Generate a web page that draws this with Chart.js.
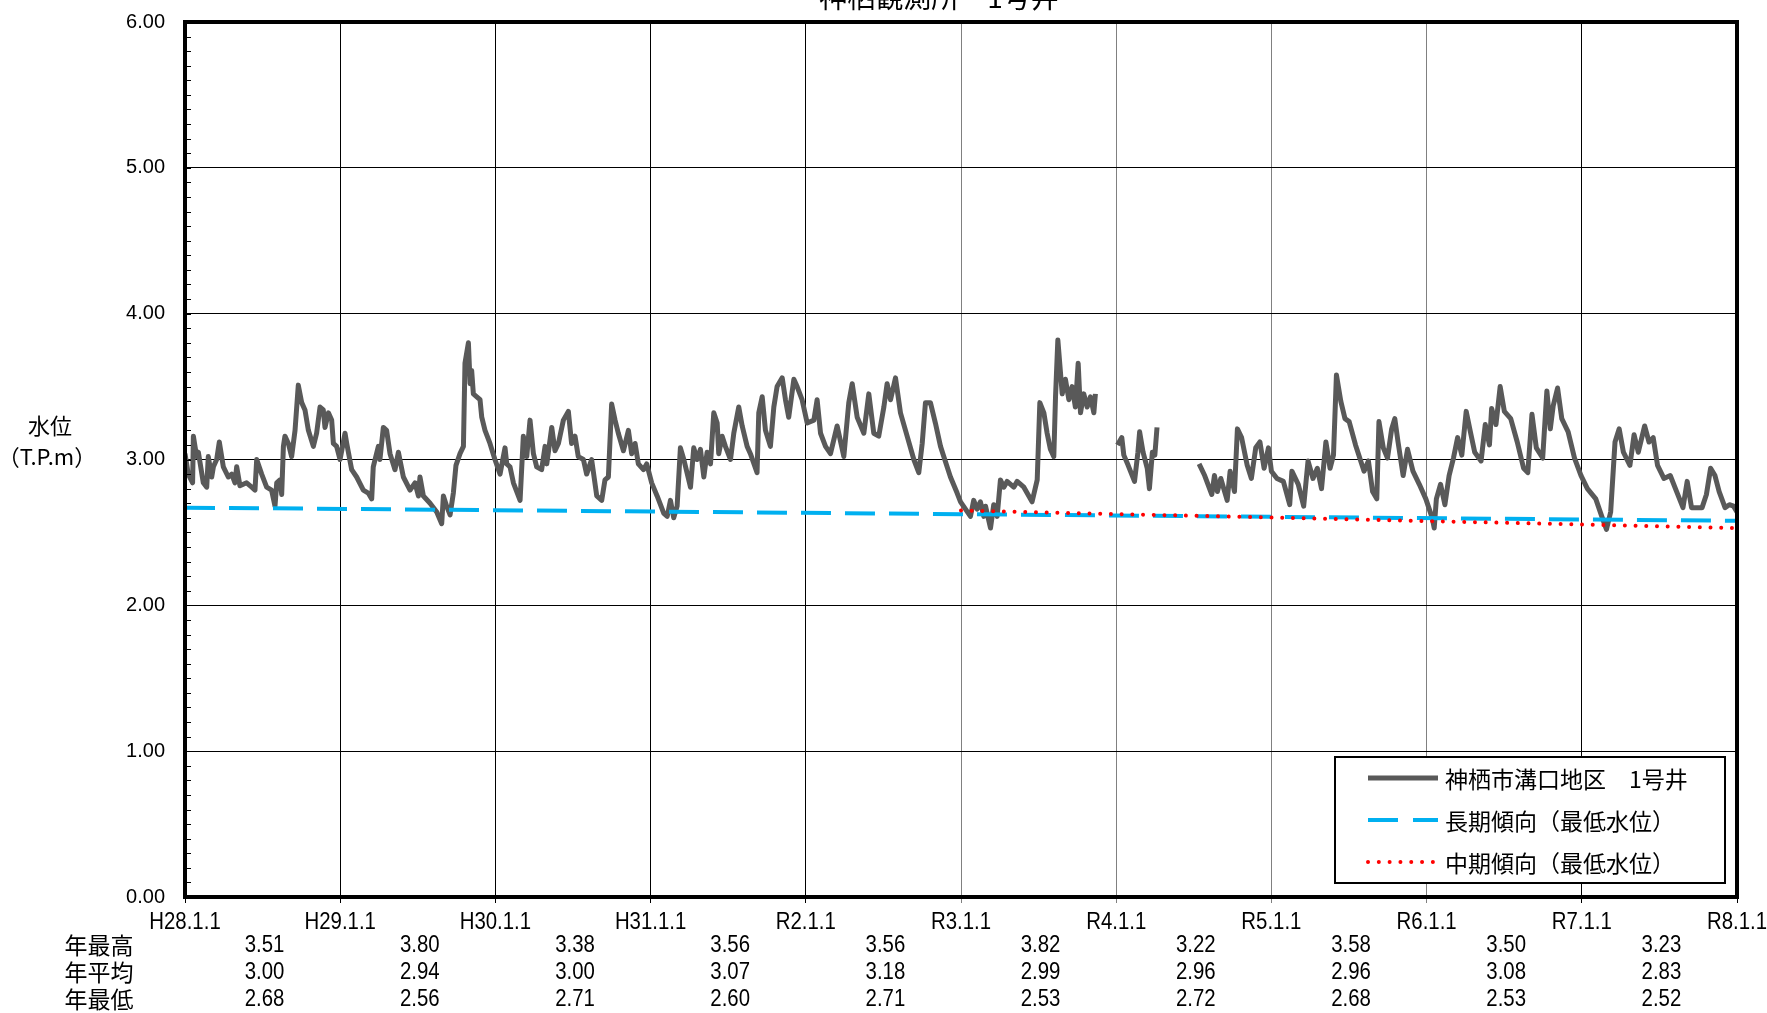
<!DOCTYPE html>
<html>
<head>
<meta charset="utf-8">
<script src="https://cdn.jsdelivr.net/npm/chart.js@4.4.1/dist/chart.umd.min.js"></script>
<style>
  html, body { margin: 0; padding: 0; background: #fff; }
  #wrap { width: 1767px; height: 1013px; }
</style>
</head>
<body>
<div id="wrap"><canvas id="chart" width="1767" height="1013"></canvas></div>
<script>
// Year labels on the x axis (H28.1.1 ... R8.1.1)
const yearLabels = ['H28.1.1', 'H29.1.1', 'H30.1.1', 'H31.1.1', 'R2.1.1', 'R3.1.1', 'R4.1.1', 'R5.1.1', 'R6.1.1', 'R7.1.1', 'R8.1.1'];
const yTicks = [0, 1, 2, 3, 4, 5, 6];

// Yearly summary table
const rowNames = ['年最高', '年平均', '年最低'];
const yearMax = [3.51, 3.80, 3.38, 3.56, 3.56, 3.82, 3.22, 3.58, 3.50, 3.23];
const yearAvg = [3.00, 2.94, 3.00, 3.07, 3.18, 2.99, 2.96, 2.96, 3.08, 2.83];
const yearMin = [2.68, 2.56, 2.71, 2.60, 2.71, 2.53, 2.72, 2.68, 2.53, 2.52];

// Observed water level (years since H28.1.1, T.P.m) - null = missing
const obsT = [
  0.000, 0.021, 0.049, 0.054, 0.075, 0.086, 0.118, 0.140, 0.150, 0.172, 0.183, 0.204, 0.221, 0.247, 0.279, 0.301,
  0.322, 0.333, 0.354, 0.397, 0.430, 0.451, 0.462, 0.494, 0.526, 0.558, 0.580, 0.591, 0.612, 0.623, 0.634, 0.644,
  0.666, 0.687, 0.709, 0.730, 0.752, 0.773, 0.795, 0.827, 0.848, 0.870, 0.891, 0.902, 0.924, 0.945, 0.956, 0.977,
  0.999, 1.031, 1.042, 1.074, 1.106, 1.149, 1.181, 1.203, 1.213, 1.246, 1.256, 1.278, 1.299, 1.321, 1.353, 1.375,
  1.407, 1.450, 1.482, 1.504, 1.514, 1.536, 1.579, 1.622, 1.654, 1.665, 1.686, 1.708, 1.729, 1.746, 1.772, 1.794,
  1.804, 1.826, 1.837, 1.847, 1.858, 1.880, 1.901, 1.912, 1.933, 1.965, 1.997, 2.030, 2.062, 2.073, 2.094, 2.116,
  2.159, 2.180, 2.202, 2.223, 2.245, 2.266, 2.298, 2.320, 2.331, 2.363, 2.384, 2.406, 2.438, 2.470, 2.491, 2.513,
  2.534, 2.567, 2.588, 2.620, 2.653, 2.685, 2.706, 2.728, 2.749, 2.771, 2.792, 2.825, 2.857, 2.878, 2.900, 2.921,
  2.954, 2.975, 3.007, 3.042, 3.085, 3.107, 3.128, 3.149, 3.171, 3.192, 3.214, 3.257, 3.278, 3.300, 3.321, 3.343,
  3.364, 3.386, 3.407, 3.429, 3.439, 3.461, 3.482, 3.515, 3.536, 3.568, 3.590, 3.622, 3.643, 3.686, 3.697, 3.719,
  3.740, 3.772, 3.794, 3.815, 3.848, 3.869, 3.890, 3.923, 3.944, 3.976, 4.009, 4.052, 4.073, 4.095, 4.127, 4.159,
  4.202, 4.245, 4.277, 4.299, 4.331, 4.374, 4.406, 4.438, 4.470, 4.503, 4.524, 4.546, 4.578, 4.610, 4.653, 4.696,
  4.728, 4.750, 4.771, 4.803, 4.835, 4.868, 4.889, 4.932, 4.975, 4.997, 5.029, 5.061, 5.082, 5.104, 5.125, 5.147,
  5.158, 5.190, 5.211, 5.233, 5.254, 5.276, 5.297, 5.340, 5.362, 5.405, 5.426, 5.458, 5.491, 5.508, 5.534, 5.555,
  5.576, 5.598, 5.609, 5.624, 5.652, 5.673, 5.695, 5.716, 5.737, 5.755, 5.770, 5.791, 5.813, 5.834, 5.856, 5.866,
  5.930, 6.008, 6.036, 6.049, 6.077, 6.118, 6.140, 6.151, 6.173, 6.200, 6.214, 6.233, 6.249, 6.263, 6.400, 6.534,
  6.570, 6.616, 6.633, 6.652, 6.674, 6.715, 6.734, 6.762, 6.781, 6.808, 6.844, 6.871, 6.899, 6.926, 6.953, 6.981,
  7.000, 7.036, 7.077, 7.118, 7.132, 7.173, 7.208, 7.236, 7.268, 7.296, 7.323, 7.351, 7.378, 7.400, 7.419, 7.447,
  7.474, 7.501, 7.542, 7.597, 7.625, 7.652, 7.679, 7.693, 7.721, 7.748, 7.775, 7.795, 7.816, 7.849, 7.877, 7.912,
  7.953, 7.995, 8.036, 8.049, 8.063, 8.090, 8.118, 8.145, 8.173, 8.200, 8.227, 8.255, 8.282, 8.310, 8.351, 8.378,
  8.405, 8.419, 8.447, 8.474, 8.501, 8.542, 8.584, 8.625, 8.652, 8.679, 8.707, 8.748, 8.775, 8.797, 8.816, 8.844,
  8.871, 8.912, 8.953, 8.995, 9.036, 9.090, 9.132, 9.159, 9.186, 9.214, 9.241, 9.268, 9.310, 9.337, 9.364, 9.405,
  9.433, 9.460, 9.488, 9.529, 9.570, 9.611, 9.652, 9.679, 9.707, 9.734, 9.775, 9.803, 9.830, 9.858, 9.885, 9.923,
  9.951, 9.978, 10.000
];
const obsLevel = [
  3.04, 2.90, 2.84, 3.16, 3.02, 3.05, 2.84, 2.81, 3.02, 2.88, 2.95, 3.00, 3.12, 2.95, 2.88, 2.90,
  2.84, 2.95, 2.82, 2.84, 2.81, 2.79, 3.00, 2.90, 2.81, 2.79, 2.68, 2.84, 2.86, 2.76, 3.09, 3.16,
  3.11, 3.02, 3.20, 3.51, 3.39, 3.34, 3.20, 3.09, 3.18, 3.36, 3.34, 3.22, 3.32, 3.27, 3.11, 3.09,
  3.00, 3.18, 3.11, 2.93, 2.88, 2.79, 2.77, 2.73, 2.95, 3.09, 3.00, 3.22, 3.20, 3.04, 2.93, 3.05,
  2.88, 2.79, 2.84, 2.75, 2.88, 2.75, 2.70, 2.64, 2.56, 2.75, 2.68, 2.62, 2.77, 2.96, 3.04, 3.09,
  3.66, 3.80, 3.52, 3.61, 3.45, 3.43, 3.41, 3.29, 3.20, 3.11, 3.00, 2.90, 3.08, 2.97, 2.95, 2.84,
  2.72, 3.16, 3.02, 3.27, 3.04, 2.95, 2.93, 3.09, 2.97, 3.22, 3.06, 3.11, 3.27, 3.33, 3.11, 3.16,
  3.02, 3.00, 2.90, 3.00, 2.75, 2.72, 2.86, 2.88, 3.38, 3.27, 3.18, 3.06, 3.20, 3.04, 3.11, 2.97,
  2.93, 2.97, 2.84, 2.75, 2.63, 2.61, 2.72, 2.60, 2.68, 3.08, 3.00, 2.81, 3.08, 3.00, 3.07, 2.88,
  3.05, 2.97, 3.32, 3.25, 3.04, 3.16, 3.09, 3.00, 3.18, 3.36, 3.23, 3.09, 3.04, 2.91, 3.32, 3.43,
  3.20, 3.09, 3.36, 3.50, 3.56, 3.41, 3.29, 3.55, 3.50, 3.41, 3.25, 3.27, 3.41, 3.18, 3.09, 3.04,
  3.23, 3.02, 3.39, 3.52, 3.29, 3.18, 3.45, 3.18, 3.16, 3.36, 3.52, 3.41, 3.56, 3.32, 3.16, 3.00,
  2.91, 3.11, 3.39, 3.39, 3.25, 3.09, 3.02, 2.88, 2.77, 2.71, 2.66, 2.61, 2.72, 2.66, 2.71, 2.61,
  2.68, 2.53, 2.69, 2.61, 2.86, 2.81, 2.85, 2.81, 2.85, 2.81, 2.77, 2.71, 2.86, 3.39, 3.32, 3.18,
  3.07, 3.02, 3.43, 3.82, 3.45, 3.55, 3.41, 3.50, 3.36, 3.66, 3.32, 3.45, 3.36, 3.43, 3.32, 3.45,
  null, 3.10, 3.15, 3.03, 2.96, 2.85, 3.05, 3.19, 3.05, 2.94, 2.80, 3.05, 3.03, 3.22, null, 2.97,
  2.89, 2.76, 2.89, 2.78, 2.87, 2.72, 2.92, 2.78, 3.21, 3.15, 2.96, 2.87, 3.08, 3.12, 2.94, 3.08,
  2.92, 2.87, 2.85, 2.69, 2.92, 2.83, 2.68, 2.99, 2.87, 2.94, 2.80, 3.12, 2.94, 3.03, 3.58, 3.40,
  3.28, 3.26, 3.10, 2.92, 2.99, 2.78, 2.73, 3.26, 3.08, 3.01, 3.21, 3.28, 3.12, 2.89, 3.07, 2.92,
  2.83, 2.73, 2.60, 2.53, 2.73, 2.83, 2.69, 2.89, 3.01, 3.15, 3.03, 3.33, 3.19, 3.05, 2.99, 3.24,
  3.10, 3.35, 3.24, 3.50, 3.33, 3.28, 3.12, 2.94, 2.91, 3.31, 3.08, 3.01, 3.47, 3.21, 3.37, 3.49,
  3.28, 3.19, 3.01, 2.89, 2.80, 2.73, 2.60, 2.52, 2.64, 3.12, 3.21, 3.05, 2.96, 3.17, 3.05, 3.23,
  3.12, 3.15, 2.96, 2.87, 2.89, 2.78, 2.67, 2.85, 2.67, 2.67, 2.67, 2.76, 2.94, 2.89, 2.78, 2.67,
  2.69, 2.68, 2.64
];

// Trend lines (lowest level)
const longT = [0, 10];
const longLevel = [2.67, 2.58];
const midT = [5, 10];
const midLevel = [2.65, 2.53];

const toPoints = (xs, ys) => xs.map((t, i) => ({ x: t, y: ys[i] }));

const FONT_NUM = '"Liberation Sans", Arial, sans-serif';
const FONT_JP = '"Noto Sans CJK JP", sans-serif';

// condensed text (like Arial Narrow)
function narrowText(ctx, text, x, y, size) {
    ctx.save();
    ctx.translate(x, y);
    ctx.scale(0.85, 1);
    ctx.font = size + 'px ' + FONT_NUM;
    ctx.textAlign = 'center';
    ctx.textBaseline = 'middle';
    ctx.fillText(text, 0, 0);
    ctx.restore();
}

// title, axis title, table, minor ticks, frame, legend
const decor = {
    id: 'decor',
    afterDraw(chart) {
        const { ctx, chartArea: a, scales: { x, y } } = chart;
        ctx.save();

        // minor ticks on left axis
        ctx.strokeStyle = '#000';
        ctx.lineWidth = 1;
        for (let i = 1; i < 60; i++) {
            const py = Math.round(y.getPixelForValue(i / 10)) + 0.5;
            ctx.beginPath();
            ctx.moveTo(a.left, py);
            ctx.lineTo(a.left + 6, py);
            ctx.stroke();
        }

        // frame
        ctx.lineWidth = 4;
        ctx.strokeRect(a.left, a.top, a.right - a.left, a.bottom - a.top);

        // legend
        const lx = 1335, ly = 757, lw = 390, lh = 126;
        ctx.fillStyle = '#fff';
        ctx.fillRect(lx, ly, lw, lh);
        ctx.lineWidth = 2;
        ctx.strokeStyle = '#000';
        ctx.strokeRect(lx, ly, lw, lh);
        const rows = [778, 820, 862];
        chart.data.datasets.forEach((ds, i) => {
            const ry = rows[i];
            ctx.save();
            ctx.strokeStyle = ds.borderColor;
            ctx.lineWidth = ds.borderWidth;
            ctx.lineCap = ds.borderCapStyle || 'butt';
            ctx.setLineDash(ds.legendDash || []);
            ctx.beginPath();
            ctx.moveTo(1368, ry);
            ctx.lineTo(1438, ry);
            ctx.stroke();
            ctx.restore();
            ctx.fillStyle = '#000';
            ctx.font = '23px ' + FONT_JP;
            ctx.textAlign = 'left';
            ctx.textBaseline = 'middle';
            ctx.fillText(ds.label, 1445, ry + 1);
        });

        // title (clipped at top)
        ctx.fillStyle = '#000';
        ctx.font = '28px ' + FONT_JP;
        ctx.textAlign = 'center';
        ctx.textBaseline = 'middle';
        ctx.fillText('神栖観測所　1号井', 939, -3);

        // y axis title
        ctx.font = '22px ' + FONT_JP;
        ctx.fillText('水位', 50, 426);
        ctx.fillText('（T.P.m）', 47, 457);

        // x labels
        yearLabels.forEach((lab, i) => narrowText(ctx, lab, x.getPixelForValue(i), 922, 24));

        // table
        const rowY = [945, 972, 999];
        ctx.font = '23px ' + FONT_JP;
        rowNames.forEach((n, i) => ctx.fillText(n, 99, rowY[i]));
        [yearMax, yearAvg, yearMin].forEach((arr, r) => {
            arr.forEach((v, i) => narrowText(ctx, v.toFixed(2), x.getPixelForValue(i + 0.5) + 2, rowY[r], 24));
        });

        ctx.restore();
    }
};

new Chart(document.getElementById('chart'), {
    type: 'line',
    data: {
        datasets: [
            {
                label: '神栖市溝口地区　1号井',
                data: toPoints(obsT, obsLevel),
                borderColor: '#595959',
                borderWidth: 5,
                borderJoinStyle: 'round',
                pointRadius: 0,
                spanGaps: false,
                order: 3
            },
            {
                label: '長期傾向（最低水位）',
                data: toPoints(longT, longLevel),
                borderColor: '#00B0F0',
                borderWidth: 4,
                borderDash: [30, 14],
                legendDash: [30, 15],
                pointRadius: 0,
                order: 2
            },
            {
                label: '中期傾向（最低水位）',
                data: toPoints(midT, midLevel),
                borderColor: '#FF0000',
                borderWidth: 4,
                borderCapStyle: 'round',
                borderDash: [0.01, 10.7],
                legendDash: [0.01, 10.8],
                pointRadius: 0,
                order: 1
            }
        ]
    },
    options: {
        responsive: false,
        animation: false,
        layout: { padding: { top: 22, right: 30, left: 0, bottom: 0 } },
        plugins: {
            legend: { display: false },
            tooltip: { enabled: false },
            title: { display: false }
        },
        scales: {
            x: {
                type: 'linear',
                min: 0,
                max: 10,
                border: { display: false },
                grid: {
                    color: c => (c.tick && c.tick.value >= 5 && c.tick.value <= 8) ? '#808080' : '#000',
                    lineWidth: 1,
                    tickLength: 6
                },
                ticks: { stepSize: 1, display: false },
                afterFit: s => { s.height = 116; s.paddingLeft = 0; s.paddingRight = 0; }
            },
            y: {
                min: 0,
                max: 6,
                border: { display: false },
                afterBuildTicks: s => { s.ticks = yTicks.map(v => ({ value: v })); },
                grid: { color: '#000', lineWidth: 1, drawTicks: false },
                ticks: {
                    padding: 20,
                    color: '#000',
                    font: { family: FONT_NUM, size: 20 },
                    callback: v => v.toFixed(2)
                },
                afterFit: s => { s.width = 185; s.paddingTop = 0; s.paddingBottom = 0; }
            }
        }
    },
    plugins: [decor]
});
</script>
</body>
</html>
